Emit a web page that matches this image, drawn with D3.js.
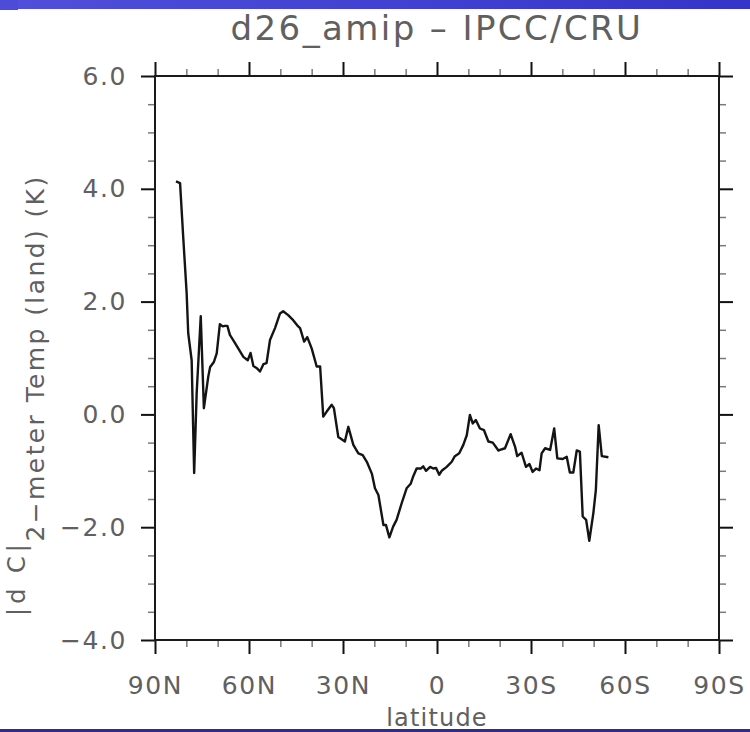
<!DOCTYPE html>
<html>
<head>
<meta charset="utf-8">
<script src="https://cdn.jsdelivr.net/npm/d3@7"></script>
<style>
  html, body { margin: 0; padding: 0; background: #fff; }
  svg { display: block; }
  text { font-family: "DejaVu Sans", sans-serif; fill: #606060; }
</style>
</head>
<body>
<svg id="chart" width="750" height="732"></svg>
<script>
// Zonal mean land 2-m temperature difference, model minus observations
const latitudes = [
  83.3, 82.0, 81.0, 79.9, 79.4, 78.3, 77.5, 76.7, 75.4, 74.4, 73.0, 72.4, 71.2, 70.3,
  69.3, 68.4, 67.7, 66.9, 66.1, 64.5, 63.1, 61.8, 60.4, 59.5, 58.6, 57.5, 56.5, 55.4,
  54.4, 53.3, 51.7, 50.1, 49.1, 47.5, 45.9, 44.3, 43.7, 42.4, 41.4, 40.0, 38.4, 37.3,
  36.3, 35.2, 33.6, 32.9, 31.5, 29.4, 28.3, 26.7, 25.1, 23.7, 22.4, 20.8, 19.8, 18.7,
  17.1, 16.3, 15.2, 14.0, 12.9, 11.3, 9.7, 8.4, 7.6, 6.5, 5.2, 4.4, 3.5, 2.2, 1.2, 0.3,
  -0.7, -1.5, -3.1, -4.7, -5.7, -7.1, -8.4, -9.5, -10.5, -11.4, -12.4, -13.7, -15.0,
  -16.4, -17.8, -19.6, -20.1, -21.7, -23.5, -24.9, -25.6, -27.0, -28.4, -29.5, -30.5,
  -31.6, -32.7, -33.4, -34.5, -36.1, -37.4, -38.4, -40.1, -41.4, -42.4, -43.5, -44.6,
  -45.6, -46.5, -47.6, -48.6, -49.9, -50.7, -51.6, -52.6, -54.7
];
const tempDiff = [
  4.13, 4.10, 3.15, 2.15, 1.44, 0.96, -1.04, 0.38, 1.74, 0.11, 0.67, 0.84, 0.93, 1.08,
  1.60, 1.56, 1.57, 1.57, 1.41, 1.27, 1.14, 1.02, 0.96, 1.09, 0.86, 0.82, 0.76, 0.89,
  0.91, 1.32, 1.53, 1.79, 1.83, 1.76, 1.67, 1.56, 1.53, 1.29, 1.37, 1.17, 0.85, 0.85,
  -0.04, 0.05, 0.17, 0.11, -0.40, -0.48, -0.22, -0.54, -0.69, -0.72, -0.84, -1.05, -1.31, -1.43,
  -1.96, -1.96, -2.18, -1.99, -1.87, -1.58, -1.31, -1.23, -1.10, -0.96, -0.96, -0.92, -1.00, -0.93, -0.96, -0.95,
  -1.07, -1.00, -0.93, -0.84, -0.74, -0.69, -0.54, -0.37, -0.01, -0.16, -0.10, -0.25, -0.28,
  -0.48, -0.50, -0.64, -0.63, -0.60, -0.35, -0.57, -0.74, -0.68, -0.93, -0.88, -1.02,
  -0.96, -0.99, -0.69, -0.60, -0.63, -0.25, -0.78, -0.79, -0.75, -1.03, -1.03, -0.64,
  -0.66, -1.81, -1.87, -2.24, -1.75, -1.34, -0.19, -0.74, -0.76
];

const xMajor = [90, 60, 30, 0, -30, -60, -90];
const xMajorLabels = ["90N", "60N", "30N", "0", "30S", "60S", "90S"];
const xMinor = [80, 70, 50, 40, 20, 10, -10, -20, -40, -50, -70, -80];
const yMajor = [6, 4, 2, 0, -2, -4];
const yMajorLabels = ["6.0", "4.0", "2.0", "0.0", "\u22122.0", "\u22124.0"];
const yMinor = [5.5, 5, 4.5, 3.5, 3, 2.5, 1.5, 1, 0.5, -0.5, -1, -1.5, -2.5, -3, -3.5];

const titleText = "d26_amip \u2013 IPCC/CRU";
const yTitle = "2\u2212meter Temp (land) (K)";
const yTitlePrev = "|d C|";
const xTitle = "latitude";

const svg = d3.select("#chart");
const W = 750, H = 732;
const plotL = 155, plotR = 719, plotT = 76, plotB = 640;

// slide backdrop: blue banner along the top, thin rule along the bottom
const defs = svg.append("defs");
const grad = defs.append("linearGradient").attr("id", "band").attr("x1", 0).attr("x2", 1);
grad.append("stop").attr("offset", 0).attr("stop-color", "#5050dc");
grad.append("stop").attr("offset", 1).attr("stop-color", "#3434c8");
svg.append("rect").attr("x", 0).attr("y", 0).attr("width", W).attr("height", 9).attr("fill", "url(#band)");
svg.append("rect").attr("x", 0).attr("y", 0).attr("width", 18).attr("height", 10).attr("fill", "#4c4cd8");

const x = d3.scaleLinear().domain([90, -90]).range([plotL, plotR]);
const y = d3.scaleLinear().domain([-4, 6]).range([plotB, plotT]);

const majorLen = 14, minorLen = 7;

// make: () => fresh d3 axis generator for one side of the frame
function drawAxis(make, tr, majors, minors, labels, pad) {
  const gMin = svg.append("g").attr("transform", tr)
    .call(make().tickValues(minors).tickSize(minorLen).tickSizeOuter(0).tickFormat(""));
  gMin.select(".domain").remove();
  gMin.selectAll("line").attr("stroke", "#7a7a7a").attr("stroke-width", 1.5);
  const gMaj = svg.append("g").attr("transform", tr)
    .call(make().tickValues(majors).tickSize(majorLen).tickSizeOuter(0)
      .tickPadding(pad)
      .tickFormat((d, i) => labels ? labels[i] : ""));
  gMaj.select(".domain").remove();
  gMaj.selectAll("line").attr("stroke", "#111").attr("stroke-width", 2);
  gMaj.selectAll("text").style("font-size", "25px").style("letter-spacing", "1.6px")
    .attr("fill", "#606060").attr("font-family", null);
  return gMaj;
}

drawAxis(() => d3.axisBottom(x), `translate(0,${plotB})`, xMajor, xMinor, xMajorLabels, 22);
drawAxis(() => d3.axisTop(x), `translate(0,${plotT})`, xMajor, xMinor, null, 14);
drawAxis(() => d3.axisLeft(y), `translate(${plotL},0)`, yMajor, yMinor, yMajorLabels, 14);
drawAxis(() => d3.axisRight(y), `translate(${plotR},0)`, yMajor, yMinor, null, 14);

svg.append("rect")
  .attr("x", plotL).attr("y", plotT).attr("width", plotR - plotL).attr("height", plotB - plotT)
  .attr("fill", "none").attr("stroke", "#1a1a1a").attr("stroke-width", 2);

const pts = latitudes.map((lat, i) => [lat, tempDiff[i]]);
svg.append("path")
  .datum(pts)
  .attr("fill", "none")
  .attr("stroke", "#141414")
  .attr("stroke-width", 2.4)
  .attr("stroke-linejoin", "round")
  .attr("d", d3.line().x(d => x(d[0])).y(d => y(d[1])));

svg.append("text")
  .attr("x", (plotL + plotR) / 2).attr("y", 40)
  .attr("text-anchor", "middle")
  .style("font-size", "34px").style("letter-spacing", "2.4px")
  .text(titleText);

svg.append("text")
  .attr("transform", `translate(44,358) rotate(-90)`)
  .attr("text-anchor", "middle")
  .style("font-size", "25px").style("letter-spacing", "2.4px")
  .text(yTitle);

svg.append("text")
  .attr("transform", `translate(25,578) rotate(-90)`)
  .attr("text-anchor", "middle")
  .style("font-size", "24px").style("letter-spacing", "4px")
  .text(yTitlePrev);

svg.append("text")
  .attr("x", (plotL + plotR) / 2).attr("y", 726)
  .attr("text-anchor", "middle")
  .style("font-size", "24px").style("letter-spacing", "1.2px")
  .text(xTitle);

svg.append("rect").attr("x", 0).attr("y", 729).attr("width", W).attr("height", 3).attr("fill", "#2e2e8a");
</script>
</body>
</html>
